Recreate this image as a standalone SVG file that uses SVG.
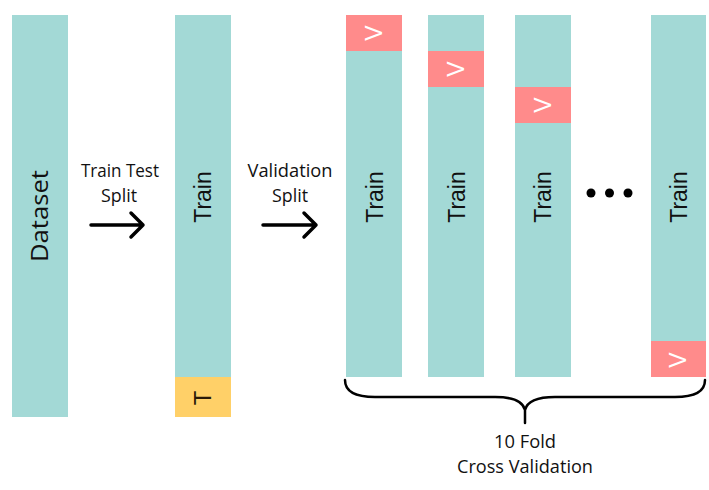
<svg xmlns="http://www.w3.org/2000/svg" width="709" height="490" viewBox="0 0 709 490">
<style>
.teal{fill:#A3D9D6}
.red{fill:#FF8B8B}
.yel{fill:#FFD068}
.lbl{font-family:"Open Sans","Liberation Sans",sans-serif;font-size:18px;fill:#111;text-anchor:middle}
.bar{font-family:"Liberation Sans",Arial,sans-serif;font-size:23px;fill:#111;text-anchor:middle}
.ds{font-family:"Open Sans","Liberation Sans",sans-serif;font-size:24px;fill:#111;text-anchor:middle}
.v{font-family:"Liberation Sans",Arial,sans-serif;font-size:23px;fill:#fff;text-anchor:middle}
.t{font-family:"Liberation Sans",Arial,sans-serif;font-size:24px;fill:#2a1a08;text-anchor:middle}
.arr{fill:none;stroke:#000;stroke-width:3.5;stroke-linecap:round;stroke-linejoin:round}
.brace{fill:none;stroke:#000;stroke-width:2.5;stroke-linecap:round}
</style>
<rect width="709" height="490" fill="#fff"/>
<g id="dataset">
<rect class="teal" x="12" y="15" width="56" height="402"/>
<text class="ds" transform="translate(48,216) rotate(-90)" textLength="92" lengthAdjust="spacingAndGlyphs">Dataset</text>
</g>
<g id="train-split">
<rect class="teal" x="175" y="15" width="56" height="362"/>
<rect class="yel" x="175" y="377" width="56" height="40"/>
<text class="bar" transform="translate(211,197) rotate(-90)">Train</text>
<text class="t" transform="translate(211,398) rotate(-90)">T</text>
</g>
<g id="fold1">
<rect class="teal" x="346" y="15" width="56" height="362"/>
<rect class="red" x="346" y="15" width="56" height="36"/>
<text class="bar" transform="translate(383,197) rotate(-90)">Train</text>
<text class="v" transform="translate(382,33) rotate(-90)">V</text>
</g>
<g id="fold2">
<rect class="teal" x="428" y="15" width="56" height="362"/>
<rect class="red" x="428" y="51" width="56" height="36"/>
<text class="bar" transform="translate(465,197) rotate(-90)">Train</text>
<text class="v" transform="translate(464,69) rotate(-90)">V</text>
</g>
<g id="fold3">
<rect class="teal" x="515" y="15" width="56" height="362"/>
<rect class="red" x="515" y="87" width="56" height="36"/>
<text class="bar" transform="translate(551,197) rotate(-90)">Train</text>
<text class="v" transform="translate(551,105) rotate(-90)">V</text>
</g>
<g id="fold10">
<rect class="teal" x="651" y="15" width="55" height="362"/>
<rect class="red" x="651" y="341" width="55" height="36"/>
<text class="bar" transform="translate(687,197) rotate(-90)">Train</text>
<text class="v" transform="translate(686,360) rotate(-90)">V</text>
</g>
<g id="ellipsis" fill="#000">
<circle cx="591" cy="193" r="4.5"/>
<circle cx="609.5" cy="193" r="4.5"/>
<circle cx="628" cy="193" r="4.5"/>
</g>
<g id="labels">
<text class="lbl" x="120" y="177" textLength="78" lengthAdjust="spacingAndGlyphs">Train Test</text>
<text class="lbl" x="119" y="202" textLength="36" lengthAdjust="spacingAndGlyphs">Split</text>
<text class="lbl" x="290" y="177" textLength="85" lengthAdjust="spacingAndGlyphs">Validation</text>
<text class="lbl" x="290" y="202" textLength="36" lengthAdjust="spacingAndGlyphs">Split</text>
<text class="lbl" x="525" y="448" textLength="62" lengthAdjust="spacingAndGlyphs">10 Fold</text>
<text class="lbl" x="525" y="473" textLength="136" lengthAdjust="spacingAndGlyphs">Cross Validation</text>
</g>
<g id="connectors">
<path class="arr" d="M91,225 H143 M131,213 L143,225 L131,237"/>
<path class="arr" d="M263,225 H316 M304,213 L316,225 L304,237"/>
<path class="brace" d="M345,380 C345,392 355,397 375,397 L495,397 C515,397 523,402 525,410 C527,402 535,397 555,397 L675,397 C695,397 705,392 705,380 M525,410 L525,423"/>
</g>
</svg>
